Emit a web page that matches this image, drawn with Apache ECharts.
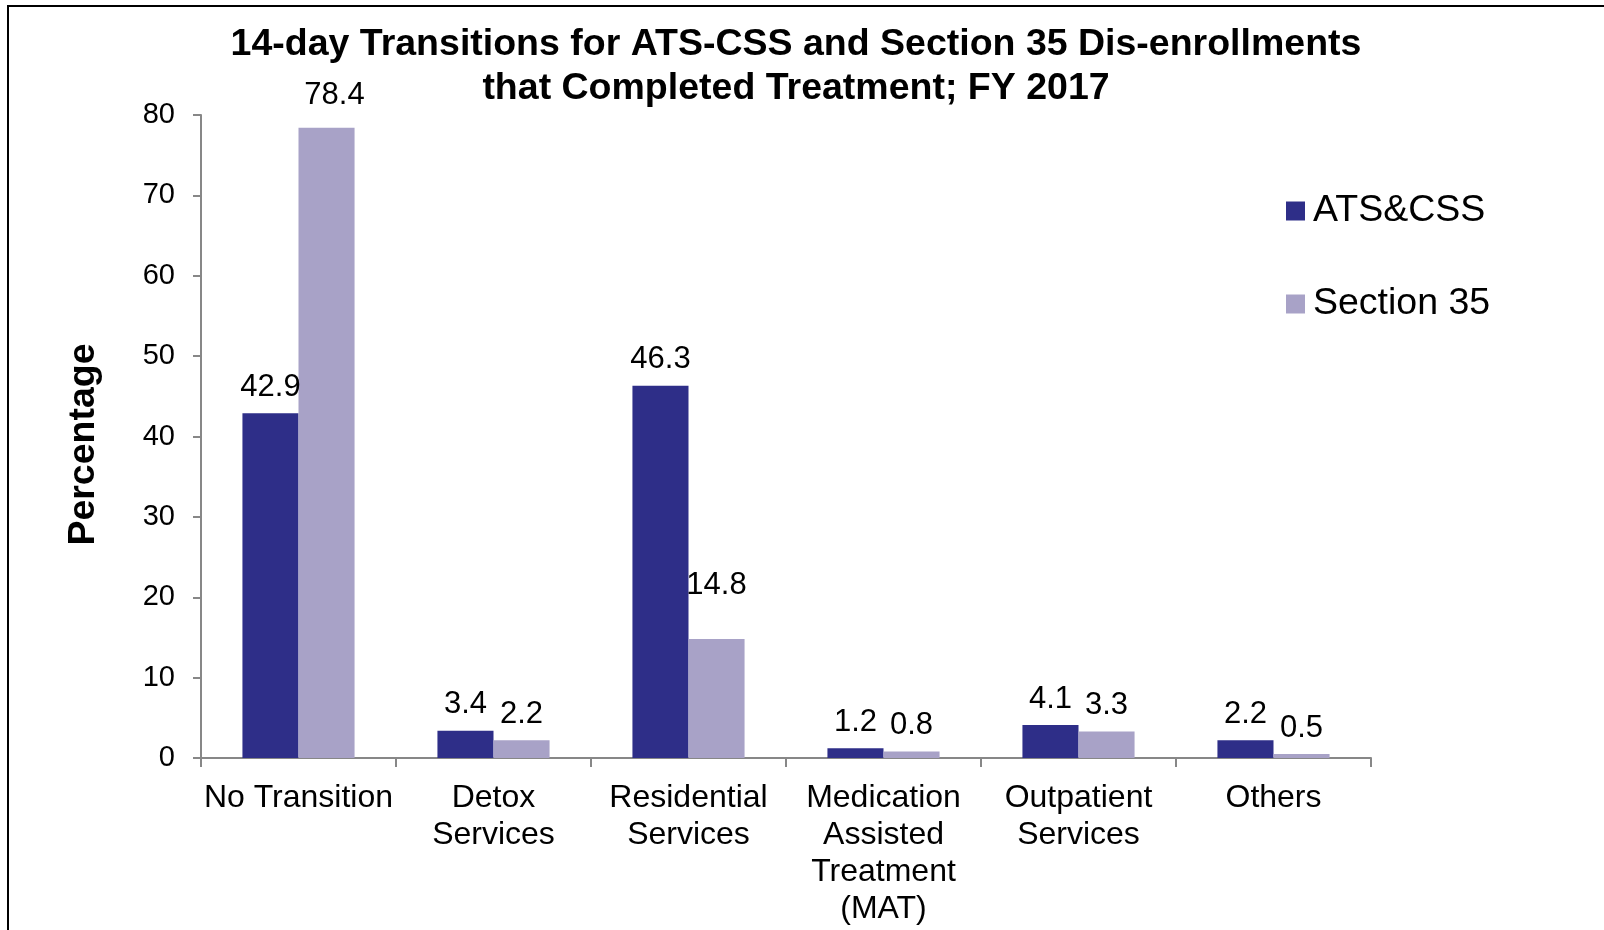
<!DOCTYPE html>
<html>
<head>
<meta charset="utf-8">
<script src="https://cdn.jsdelivr.net/npm/echarts@6/dist/echarts.min.js"></script>
<style>
  html, body { margin: 0; padding: 0; background: #fff; }
  #chart { width: 1604px; height: 930px; }
</style>
</head>
<body>
<div id="chart"></div>
<script>
// data
const categories = ['No Transition', 'Detox\nServices', 'Residential\nServices',
    'Medication\nAssisted\nTreatment\n(MAT)', 'Outpatient\nServices', 'Others']
const atsCss = [42.9, 3.4, 46.3, 1.2, 4.1, 2.2]
const section35 = [78.4, 2.2, 14.8, 0.8, 3.3, 0.5]
const yTicks = [0, 10, 20, 30, 40, 50, 60, 70, 80]

const font = 'Liberation Sans, Arial, Helvetica, sans-serif'
const axisGrey = '#878787'

// a couple of labels sit a bit off in the original
const labelTweaks = {
    0: { distance: 17, offset: [8, 0] },
    2: { distance: 38 }
}

let myChart = echarts.init(document.getElementById('chart'))

const barLabel = {
    show: true,
    position: 'top',
    distance: 10.5,
    color: '#000',
    fontFamily: font,
    fontSize: 31,
    formatter: p => p.value.toFixed(1)
}

const options = {
    backgroundColor: '#fff',
    animation: false,
    title: {
        text: '14-day Transitions for ATS-CSS and Section 35 Dis-enrollments\nthat Completed Treatment; FY 2017',
        left: 796,
        top: 23,
        padding: 0,
        textAlign: 'center',
        textStyle: {
            fontFamily: font,
            fontWeight: 'bold',
            fontSize: 37.5,
            lineHeight: 44,
            color: '#000'
        }
    },
    legend: {
        data: ['ATS&CSS', 'Section 35'],
        orient: 'vertical',
        left: 1286,
        top: 192,
        padding: 0,
        itemWidth: 19,
        itemHeight: 19,
        itemGap: 55,
        icon: 'rect',
        textStyle: {
            fontFamily: font,
            fontSize: 37.5,
            color: '#000',
            padding: [0, 0, 0, 3]
        }
    },
    grid: {
        left: 201,
        right: 233,
        top: 115,
        bottom: 172,
        containLabel: false
    },
    xAxis: {
        type: 'category',
        data: categories,
        axisLine: { lineStyle: { color: axisGrey, width: 2 } },
        axisTick: { show: true, length: 9, lineStyle: { color: axisGrey, width: 2 } },
        axisLabel: {
            interval: 0,
            margin: 22,
            color: '#000',
            fontFamily: font,
            fontSize: 32,
            lineHeight: 37
        }
    },
    yAxis: {
        type: 'value',
        min: yTicks[0],
        max: yTicks[yTicks.length - 1],
        interval: 10,
        name: 'Percentage',
        nameLocation: 'middle',
        nameGap: 98,
        nameTextStyle: {
            fontFamily: font,
            fontWeight: 'bold',
            fontSize: 37.5,
            color: '#000',
            padding: [0, 16, 0, 0]
        },
        axisLine: { show: true, lineStyle: { color: axisGrey, width: 2 } },
        axisTick: { show: true, length: 8, lineStyle: { color: axisGrey, width: 2 } },
        splitLine: { show: false },
        axisLabel: {
            margin: 26,
            color: '#000',
            fontFamily: font,
            fontSize: 29
        }
    },
    series: [
        {
            name: 'ATS&CSS',
            type: 'bar',
            data: atsCss,
            barGap: '0%',
            barCategoryGap: '42.5%',
            itemStyle: { color: '#2E2E88' },
            label: barLabel
        },
        {
            name: 'Section 35',
            type: 'bar',
            data: section35.map((v, i) => labelTweaks[i] ? { value: v, label: labelTweaks[i] } : v),
            itemStyle: { color: '#A8A2C7' },
            label: barLabel
        }
    ],
    graphic: [
        {
            type: 'rect',
            shape: { x: 8, y: 6, width: 3000, height: 3000 },
            style: { fill: 'none', stroke: '#000', lineWidth: 2 },
            silent: true
        }
    ]
}
myChart.setOption(options)
</script>
</body>
</html>
